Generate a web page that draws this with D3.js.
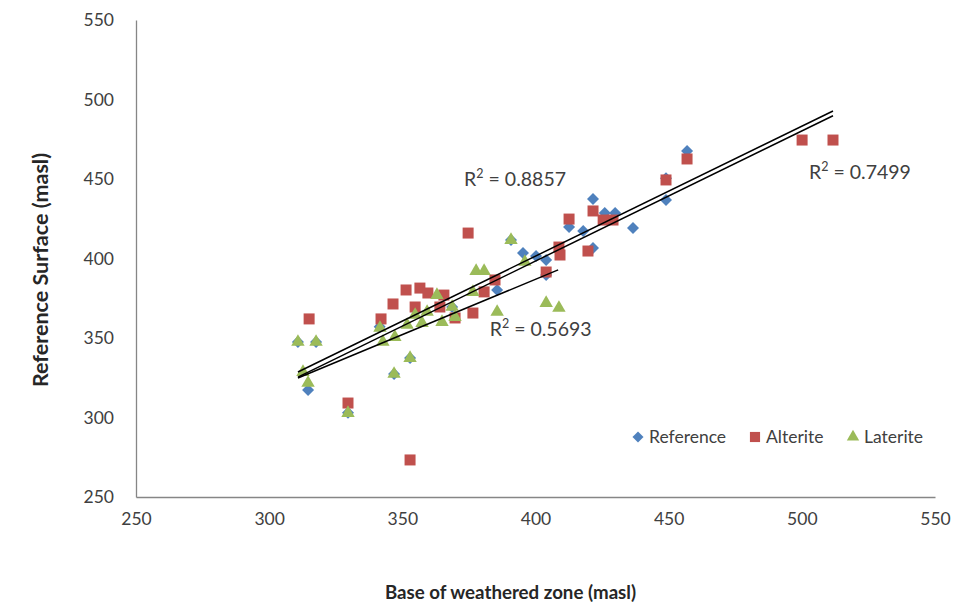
<!DOCTYPE html>
<html><head><meta charset="utf-8">
<script src="https://cdn.jsdelivr.net/npm/d3@7"></script>
<style>body{margin:0;background:#fff;} svg{display:block;font-family:Lato,"Open Sans",sans-serif;}</style>
</head><body>
<svg id="chart" width="963" height="605"></svg>
<script>
const xTicks = [250,300,350,400,450,500,550];
const yTicks = [250,300,350,400,450,500,550];
const seriesNames = ["Reference","Alterite","Laterite"];
const referenceX = [310.8,317.6,314.6,329.6,346.9,352.9,341.5,368.7,385.6,390.8,395.3,400.2,404,404,412.6,417.9,421.6,421.6,426,429.9,436.6,449,456.9,449];
const referenceY = [347.5,347.5,317.3,303,327.4,337.4,357,369.5,380.2,411.6,403.5,401.6,399,389.6,419.8,417.3,437.4,406.6,428.6,428.6,419.2,436.8,467.6,450.5];
const alteriteX = [315,329.6,352.9,342,346.5,351.4,356.6,359.6,354.8,364.1,365.6,369.8,376.5,374.7,380.7,384.8,404,408.8,409.2,412.6,419.7,421.6,425.4,429.1,449,456.9,500.1,511.7];
const alteriteY = [362,309.1,273.3,362,371.4,380.2,381.4,378.3,369.5,369.5,377,362.6,365.7,416,379,386.5,391.5,407.2,402.2,424.8,404.7,429.9,424.2,424.2,449.4,462.6,474.5,474.5];
const lateriteX = [310.8,317.6,312.7,314.6,329.6,341.6,342.7,347.2,346.9,352.9,351.8,354.8,357.4,359.3,363,364.9,368.7,369.8,376.5,377.7,380.7,385.6,390.8,396,404,408.8];
const lateriteY = [347.5,347.5,328.6,321.7,302.8,356.3,347.5,350.6,327.4,337.4,358.2,364.5,359.4,366.4,377,360,369.5,363.2,378.9,392.1,392.1,366.4,411.6,397.8,372,368.9];
// trendlines: slope, intercept, x-range, R² label and label position (data coords)
const trendSlope = [0.817,0.818,0.696];
const trendIntercept = [74.7,71.2,108.5];
const trendX0 = [310.8,310.8,310.8];
const trendX1 = [511.7,511.7,408.5];
const r2Labels = ["R² = 0.8857","R² = 0.7499","R² = 0.5693"];
const r2LabelX = [373.2,502.7,382.8];
const r2LabelY = [445.5,450,351];

const colors = ["#4F81BD","#C0504D","#9BBB59"];
const svg = d3.select("#chart");
const m = {l:136, r:935, t:20, b:497};
const x = d3.scaleLinear().domain([250,550]).range([m.l,m.r]);
const y = d3.scaleLinear().domain([250,550]).range([m.b,m.t]);

// axes
const xa = svg.append("g").attr("transform",`translate(0,${m.b})`)
  .call(d3.axisBottom(x).tickValues(xTicks).tickSize(0).tickPadding(16));
const ya = svg.append("g").attr("transform",`translate(${m.l},0)`)
  .call(d3.axisLeft(y).tickValues(yTicks).tickSize(0).tickPadding(22));
[xa,ya].forEach(a=>{
  a.select(".domain").attr("stroke","#868686").attr("stroke-width",1.3);
  a.selectAll("text").attr("font-family","Lato, 'Open Sans', sans-serif").attr("font-size",17.5).attr("fill","#404040");
});

// series
const series = [
  {name:seriesNames[0], xs:referenceX, ys:referenceY, sym:d3.symbolSquare, size:72, rot:45},
  {name:seriesNames[1], xs:alteriteX, ys:alteriteY, sym:d3.symbolSquare, size:121, rot:0},
  {name:seriesNames[2], xs:lateriteX, ys:lateriteY, sym:d3.symbolTriangle, size:78, rot:0}
];
series.forEach((s,i)=>{
  const g = svg.append("g");
  g.selectAll("path").data(s.xs.map((v,j)=>[v,s.ys[j]])).join("path")
    .attr("transform",d=>`translate(${x(d[0])},${y(d[1])}) rotate(${s.rot})`)
    .attr("d",d3.symbol().type(s.sym).size(s.size))
    .attr("fill",colors[i]);
});

// trendlines
trendSlope.forEach((a,i)=>{
  const b = trendIntercept[i];
  svg.append("line")
    .attr("x1",x(trendX0[i])).attr("y1",y(a*trendX0[i]+b))
    .attr("x2",x(trendX1[i])).attr("y2",y(a*trendX1[i]+b))
    .attr("stroke","#000").attr("stroke-width",1.5);
});

// R² labels
r2Labels.forEach((t,i)=>{
  const tx = svg.append("text").attr("x",x(r2LabelX[i])).attr("y",y(r2LabelY[i]))
    .attr("font-size",19.5).attr("fill","#404040");
  tx.append("tspan").text("R");
  tx.append("tspan").text("2").attr("font-size",12.5).attr("dy",-8);
  tx.append("tspan").text(t.replace("R² ","\u00a0")).attr("dy",8);
});

// legend
const leg = svg.append("g").attr("transform","translate(0,437)");
const legX = [638,755,853];
series.forEach((s,i)=>{
  leg.append("path").attr("transform",`translate(${legX[i]},0) rotate(${s.rot})`)
    .attr("d",d3.symbol().type(s.sym).size(s.size*0.85)).attr("fill",colors[i]);
  leg.append("text").attr("x",legX[i]+11).attr("y",6).attr("font-size",17.5)
    .attr("fill","#404040").text(s.name);
});

// axis titles
svg.append("text").attr("x",(m.l+m.r)/2-25).attr("y",599).attr("text-anchor","middle")
  .attr("font-size",18.7).attr("font-weight","bold").attr("fill","#262626").text("Base of weathered zone (masl)");
svg.append("text").attr("transform","translate(48,270) rotate(-90)").attr("text-anchor","middle")
  .attr("font-size",21.5).attr("font-weight","bold").attr("fill","#262626").text("Reference Surface (masl)");
</script>
</body></html>
